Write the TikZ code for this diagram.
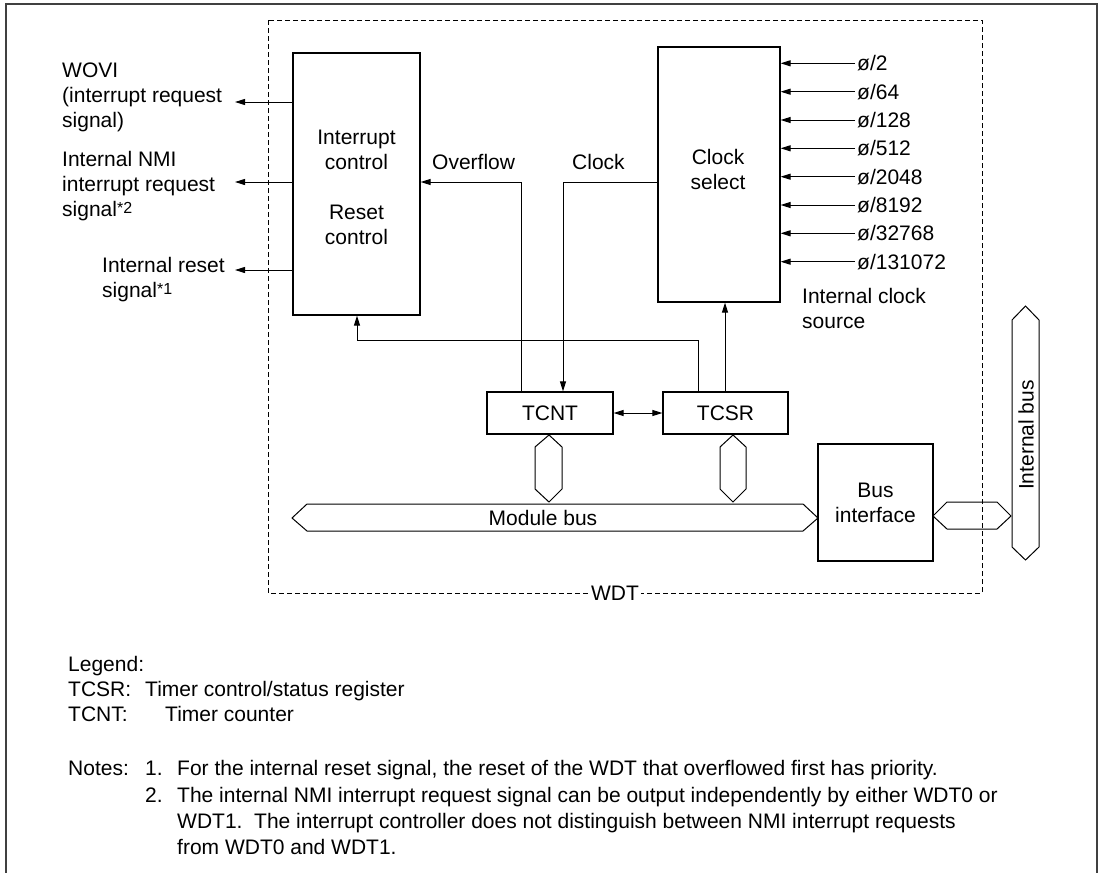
\documentclass[tikz,border=0pt]{standalone}
\usepackage{fontspec}
\setmainfont{Liberation Sans}
\usetikzlibrary{arrows.meta}
\begin{document}
\begin{tikzpicture}[x=1pt,y=-1pt,
  every node/.style={font=\fontsize{21}{25}\selectfont, inner sep=0pt},
  box/.style={draw, line width=1.2pt, inner sep=0pt},
  wire/.style={line width=1pt},
  arr/.style={wire, -{Triangle[length=10pt,width=6pt]}},
  darr/.style={wire, {Triangle[length=10pt,width=6pt]}-{Triangle[length=10pt,width=6pt]}},
  bus/.style={line width=1pt, line join=miter},
  lbl/.style={anchor=west, align=left},
  leg/.style={anchor=base west, font=\fontsize{21}{25}\selectfont},
  sup/.style={font=\fontsize{16}{16}\selectfont}
]
\useasboundingbox (0,0) rectangle (1101,873);
\fill[white] (0,0) rectangle (1101,873);
% outer frame
\draw[line width=1.3pt, black!75] (6,873) -- (6,4) -- (1097,4) -- (1097,873);
% WDT dashed box
\draw[line width=0.9pt, dash pattern=on 5pt off 3pt] (268,20) rectangle (982,593);
\node[fill=white, inner xsep=2pt] (wdt) at (615,593) {WDT};

% main blocks
\node[box, minimum width=127pt, minimum height=262pt] (irc) at (356.5,184) {};
\node[align=center] (irctext) at (356.5,187) {Interrupt\\control\\[25pt]Reset\\control};
\node[box, minimum width=122pt, minimum height=255pt] (cs) at (719,174.5) {};
\node[align=center] (cstext) at (718,169) {Clock\\select};
\node[box, minimum width=126pt, minimum height=42pt] (tcnt) at (550,413) {TCNT};
\node[box, minimum width=125pt, minimum height=42pt] (tcsr) at (725.5,413) {TCSR};
\node[box, minimum width=115pt, minimum height=117pt, align=center] (bif) at (875.5,502.5) {Bus\\interface};

% outputs on left
\node[lbl] (wovi) at (62,97) {WOVI\\(interrupt request\\signal)};
\node[lbl] (nmi) at (62,186) {Internal NMI\\interrupt request\\signal\raisebox{0.3ex}{\fontsize{16}{16}\selectfont *2}};
\node[lbl] (rst) at (102,280) {Internal reset\\signal\raisebox{0.3ex}{\fontsize{16}{16}\selectfont *1}};
\coordinate (o1) at (235,102);
\coordinate (o2) at (235,182);
\coordinate (o3) at (235,270);
\draw[arr] (irc.west |- o1) -- (o1);
\draw[arr] (irc.west |- o2) -- (o2);
\draw[arr] (irc.west |- o3) -- (o3);

% clock inputs
\foreach \i/\t/\y in {1/2/63.3,2/64/91.7,3/128/120,4/512/148.3,5/2048/176.7,6/8192/205,7/32768/233.3,8/131072/261.7}{
  \node[anchor=west] (in\i) at (857,\y) {ø/\t};
  \draw[arr] ([xshift=-2pt]in\i.west) -- (cs.east |- in\i.west);
}
\node[lbl] (ics) at (802,308) {Internal clock\\source};

% clock line
\node[anchor=base west] (clklbl) at (572,169.5) {Clock};
\coordinate (c1) at (563,182);
\draw[arr] (cs.west |- c1) -- (c1) -- (c1 |- tcnt.north);

% overflow line
\node[anchor=base west] (ovlbl) at (432,169.5) {Overflow};
\coordinate (v1) at (521,182);
\draw[arr] (v1 |- tcnt.north) -- (v1) -- (irc.east |- v1);

% feedback TCSR -> interrupt control
\coordinate (f1) at (698,340);
\coordinate (f2) at (357,340);
\draw[arr] (f1 |- tcsr.north) -- (f1) -- (f2) -- (f2 |- irc.south);

% TCSR -> clock select
\coordinate (s1) at (725,340);
\draw[arr] (s1 |- tcsr.north) -- (s1 |- cs.south);

% TCNT <-> TCSR
\draw[darr] (tcnt.east) -- (tcsr.west);

% small vertical buses
\draw[bus] (549,435) -- (562,447) -- (562,489) -- (549,502) -- (535,489) -- (535,447) -- cycle;
\draw[bus] (733,435) -- (746,447) -- (746,489) -- (733,502) -- (720,489) -- (720,447) -- cycle;

% module bus
\draw[bus] (292,518) -- (307,504) -- (803,504) -- (818,518) -- (803,531) -- (307,531) -- cycle;
\node (mbus) at (543,518) {Module bus};

% bus interface to internal bus
\draw[bus] (933,516) -- (947,502) -- (997,502) -- (1011,516) -- (997,529) -- (947,529) -- cycle;
\draw[bus] (1025.5,306) -- (1039,320) -- (1039,547) -- (1025.5,560) -- (1012,547) -- (1012,320) -- cycle;
\node[rotate=90] (ibus) at (1026,435) {Internal bus};

% legend
\node[leg] (lg) at (68,671.5) {Legend:};
\node[leg] (lg1a) at (68,696.5) {TCSR:};
\node[leg] (lg1b) at (145,696.5) {Timer control/status register};
\node[leg] (lg2a) at (68,721.5) {TCNT:};
\node[leg] (lg2b) at (165,721.5) {Timer counter};
\node[leg] (nt) at (68,775.5) {Notes:};
\node[leg] (n1) at (145,775.5) {1.};
\node[leg] (n1t) at (177,775.5) {For the internal reset signal, the reset of the WDT that overflowed first has priority.};
\node[leg] (n2) at (145,802.5) {2.};
\node[leg] (n2t) at (177,802.5) {The internal NMI interrupt request signal can be output independently by either WDT0 or};
\node[leg] (n2u) at (177,828.5) {WDT1.\ \ The interrupt controller does not distinguish between NMI interrupt requests};
\node[leg] (n2v) at (177,854.5) {from WDT0 and WDT1.};
\end{tikzpicture}
\end{document}
